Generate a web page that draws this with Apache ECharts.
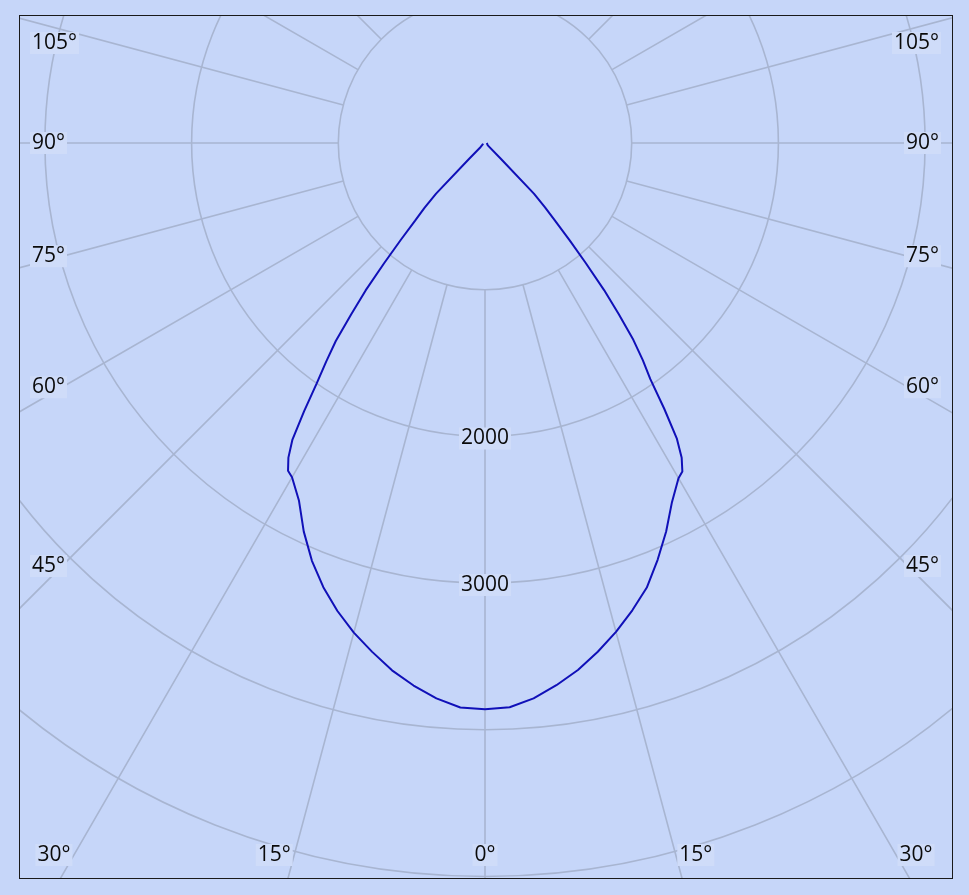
<!DOCTYPE html>
<html><head><meta charset="utf-8">
<script src="https://cdn.jsdelivr.net/npm/echarts@6/dist/echarts.min.js"></script>
<style>
html,body{margin:0;padding:0;background:#c6d6f9;width:969px;height:895px;overflow:hidden}
#frame{position:absolute;left:19px;top:15px;width:932px;height:862px;border:1px solid #1a1a1a;}
#chart{width:932px;height:862px;}
</style></head><body>
<div id="frame"><div id="chart"></div></div>
<script>
// Angles (degrees from nadir) and luminous intensity values
const angles = [0,2.5,5,7.5,10,12.5,15,17.5,20,22.5,25,27.5,30,31,32,33,34,35,36,37,38,39,40,41,42,43,44,45,47.5,50,60,75,90];
const leftValues = [3860,3852,3800,3730,3650,3553,3455,3345,3222,3083,2923,2747,2631,2607,2529,2410,2206,2000,1842,1690,1481,1293,1072,876,712,605,480,150,40,25,18,14,12];
const rightValues = [3860,3850,3800,3728,3648,3552,3450,3340,3225,3075,2922,2760,2638,2612,2530,2400,2185,1965,1830,1680,1480,1290,1070,880,715,600,480,150,40,25,18,14,12];
const radiusMax = 6000;
const radiusStep = 1000;
const radiusLabelValues = [2000, 3000];
const angleTickValues = [0,15,30,45,60,75,90,105];
const angleTickLabels = ['0°','15°','30°','45°','60°','75°','90°','105°'];

// layout (chart-local pixels)
const OX = 20, OY = 16;              // frame content offset in page
const CX = 485 - OX, CY = 143 - OY;  // polar centre
const PX_PER_1000 = 146.7;
const R = radiusMax / 1000 * PX_PER_1000;
const R0 = radiusStep / 1000 * PX_PER_1000;

const BG = '#c6d6f9';
const GRID = '#a8b5d1';
const LABEL_BG = '#cfdcf9';
const FONT = '21px "Open Sans", "Noto Sans", sans-serif';

// series data: right side (360 - a) from 90 down, then left side from 0 up
const data = [];
for (let i = angles.length - 1; i >= 1; i--) data.push([rightValues[i], 360 - angles[i]]);
for (let i = 0; i < angles.length; i++) data.push([leftValues[i], angles[i]]);

const graphics = [];
function addText(text, xPage, yPage, align) {
  graphics.push({
    type: 'text', x: xPage - OX, y: yPage - OY, z: 100,
    style: { text: text, font: FONT, fill: '#0a0a0a', align: align, verticalAlign: 'middle',
             backgroundColor: LABEL_BG, padding: [1, 2, 0, 2] }
  });
}
angleTickValues.forEach((a, i) => {
  const lab = angleTickLabels[i];
  if (a <= 30) {
    const d = a === 0 ? 0 : 712 * Math.tan(a * Math.PI / 180) + 20;
    const xl = Math.max(53, 485 - d), xr = Math.min(917, 485 + d);
    addText(lab, xl, 855, 'center');
    if (a !== 0) addText(lab, xr, 855, 'center');
  } else {
    let y = 143 - 423 * Math.tan((a - 90) * Math.PI / 180);
    y = Math.max(43, Math.min(860, y));
    addText(lab, 30, y, 'left');
    addText(lab, 941, y, 'right');
  }
});
radiusLabelValues.forEach(v => {
  addText(String(v), 485, 143 + v / 1000 * PX_PER_1000 + 2, 'center');
});

const chart = echarts.init(document.getElementById('chart'), null, { renderer: 'canvas' });
chart.setOption({
  animation: false,
  backgroundColor: BG,
  polar: [
    { center: [CX, CY], radius: R },
    { center: [CX, CY], radius: [R0, R] }
  ],
  radiusAxis: [
    { polarIndex: 0, type: 'value', min: 0, max: radiusMax, interval: radiusStep,
      axisLine: { show: false }, axisTick: { show: false }, axisLabel: { show: false },
      splitLine: { show: true, lineStyle: { color: GRID, width: 1.6 } } },
    { polarIndex: 1, type: 'value', min: 0, max: radiusMax, show: false,
      splitLine: { show: false } }
  ],
  angleAxis: [
    { polarIndex: 0, type: 'value', min: 0, max: 360, interval: 15, startAngle: 270, clockwise: true,
      axisLine: { show: false }, axisTick: { show: false }, axisLabel: { show: false },
      splitLine: { show: false } },
    { polarIndex: 1, type: 'value', min: 0, max: 360, interval: 15, startAngle: 270, clockwise: true,
      axisLine: { show: false }, axisTick: { show: false }, axisLabel: { show: false },
      splitLine: { show: true, lineStyle: { color: GRID, width: 1.6 } } }
  ],
  series: [{
    type: 'line', coordinateSystem: 'polar', polarIndex: 0,
    data: data, showSymbol: false, symbol: 'none', smooth: false,
    lineStyle: { color: '#1010b8', width: 2 }, z: 5
  }],
  graphic: graphics
});
</script>
</body></html>
